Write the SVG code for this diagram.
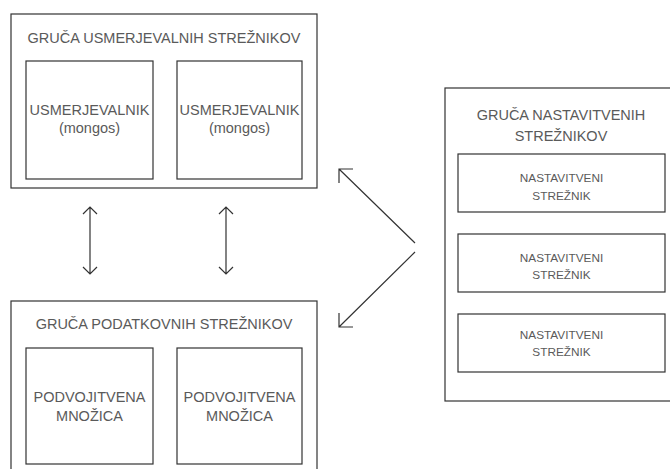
<svg xmlns="http://www.w3.org/2000/svg" width="670" height="469" viewBox="0 0 670 469">
<style>
.box{fill:#fff;stroke:#333;stroke-width:1.2}
.t{font-family:"Liberation Sans",Arial,sans-serif;fill:#5a5a5a;text-anchor:middle}
.big{font-size:14.5px}
.sm{font-size:11.8px}
.ln{stroke:#333;stroke-width:1.2;fill:none}
</style>
<rect width="670" height="469" fill="#fff"/>
<g id="router-cluster">
<rect class="box" x="11" y="14" width="306" height="174"/>
<text class="t big" x="164" y="43">GRUČA USMERJEVALNIH STREŽNIKOV</text>
</g>
<g id="router-1">
<rect class="box" x="26" y="61" width="127" height="118"/>
<text class="t big" x="89.5" y="115">USMERJEVALNIK</text>
<text class="t big" x="89.5" y="133">(mongos)</text>
</g>
<g id="router-2">
<rect class="box" x="177" y="61" width="125" height="118"/>
<text class="t big" x="239.5" y="115">USMERJEVALNIK</text>
<text class="t big" x="239.5" y="133">(mongos)</text>
</g>
<g id="data-cluster">
<rect class="box" x="11" y="301" width="306" height="180"/>
<text class="t big" x="164" y="329">GRUČA PODATKOVNIH STREŽNIKOV</text>
</g>
<g id="shard-1">
<rect class="box" x="26" y="348" width="127" height="116"/>
<text class="t big" x="89.5" y="402">PODVOJITVENA</text>
<text class="t big" x="89.5" y="421">MNOŽICA</text>
</g>
<g id="shard-2">
<rect class="box" x="177" y="348" width="125" height="116"/>
<text class="t big" x="239.5" y="402">PODVOJITVENA</text>
<text class="t big" x="239.5" y="421">MNOŽICA</text>
</g>
<g id="config-cluster">
<rect class="box" x="445" y="88" width="240" height="313"/>
<text class="t big" x="561" y="120">GRUČA NASTAVITVENIH</text>
<text class="t big" x="561" y="141">STREŽNIKOV</text>
</g>
<g id="config-1">
<rect class="box" x="458" y="154" width="207" height="58"/>
<text class="t sm" x="561.5" y="182">NASTAVITVENI</text>
<text class="t sm" x="561.5" y="200">STREŽNIK</text>
</g>
<g id="config-2">
<rect class="box" x="458" y="234" width="207" height="58"/>
<text class="t sm" x="561.5" y="262">NASTAVITVENI</text>
<text class="t sm" x="561.5" y="279">STREŽNIK</text>
</g>
<g id="config-3">
<rect class="box" x="458" y="314" width="207" height="58"/>
<text class="t sm" x="561.5" y="339">NASTAVITVENI</text>
<text class="t sm" x="561.5" y="356">STREŽNIK</text>
</g>
<g id="connectors">
<path class="ln" d="M90 207V274M83 214L90 207L97 214M83 267L90 274L97 267"/>
<path class="ln" d="M226 207V274M219 214L226 207L233 214M219 267L226 274L233 267"/>
<path class="ln" d="M415 243L339 169M353 169H339V183"/>
<path class="ln" d="M415 252L339 327M339 313V327H353"/>
</g>
</svg>
